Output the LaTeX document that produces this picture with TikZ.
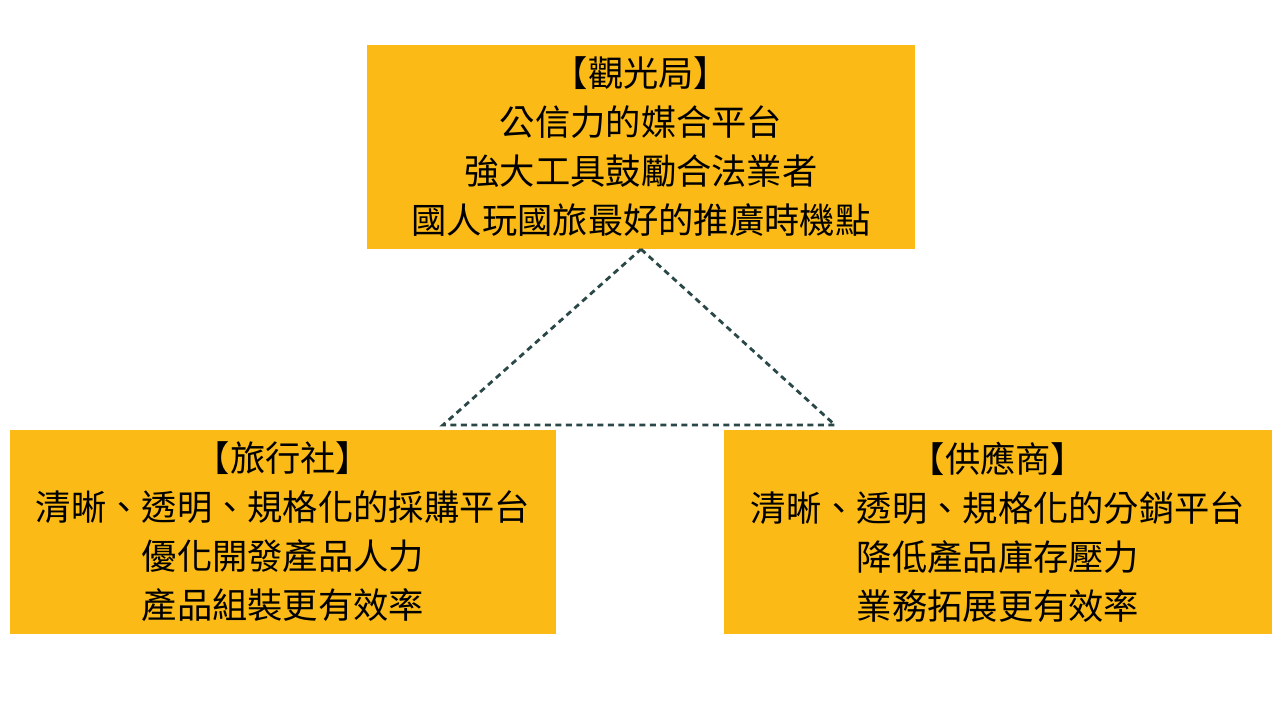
\documentclass[tikz,border=0pt]{standalone}
\usepackage{fontspec}
\setmainfont{Noto Sans CJK TC}
\definecolor{boxyellow}{HTML}{FBBA16}
\definecolor{dashteal}{HTML}{2A4848}
\begin{document}
\begin{tikzpicture}[x=1pt,y=1pt,
  box/.style={fill=boxyellow, draw=none, inner sep=0pt, align=center,
    font=\fontsize{35.3pt}{49pt}\selectfont, text=black},
  link/.style={draw=dashteal, line width=2.8pt, dash pattern=on 6pt off 4.5pt}]
\useasboundingbox (0,0) rectangle (1280,720);
\fill[white] (0,0) rectangle (1280,720);
\node[box, minimum width=548pt, minimum height=204pt] (top) at (641,573)
  {【觀光局】\\公信力的媒合平台\\強大工具鼓勵合法業者\\國人玩國旅最好的推廣時機點};
\node[box, minimum width=546pt, minimum height=204pt] (left) at (283,188)
  {【旅行社】\\清晰、透明、規格化的採購平台\\優化開發產品人力\\產品組裝更有效率};
\node[box, minimum width=548pt, minimum height=204pt] (right) at (998,188)
  {【供應商】\\清晰、透明、規格化的分銷平台\\降低產品庫存壓力\\業務拓展更有效率};
\coordinate (bl) at (443,295);
\coordinate (br) at (835,295);
\draw[link] (top.south) -- (br) -- (bl) -- cycle;
\end{tikzpicture}
\end{document}
